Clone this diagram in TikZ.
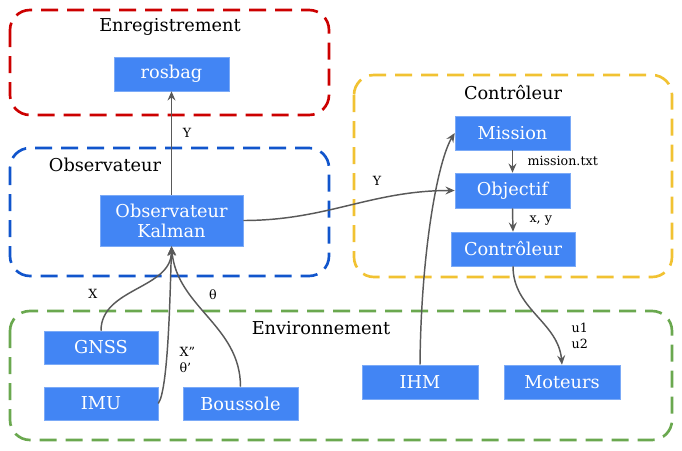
\documentclass[tikz,border=0pt]{standalone}
\usepackage{fontspec}
\setmainfont{DejaVu Serif}
\usetikzlibrary{arrows.meta}

\definecolor{bloccolor}{HTML}{4285F4}
\definecolor{flechecolor}{HTML}{595959}
\definecolor{rouge}{HTML}{CC0000}
\definecolor{bleu}{HTML}{1155CC}
\definecolor{jaune}{HTML}{F1C232}
\definecolor{vert}{HTML}{6AA84F}

\tikzset{
  bloc/.style={fill=bloccolor, draw=bloccolor!70!white, text=white, inner sep=0pt,
    align=center, font=\fontsize{13.3}{15}\selectfont},
  groupe/.style={line width=2pt, dash pattern=on 12.75pt off 6.75pt, rounded corners=15pt},
  titre/.style={font=\fontsize{13.3}{15}\selectfont},
  fleche/.style={draw=flechecolor, line width=1.1pt, -{Stealth[length=7pt,width=6pt,inset=2.5pt]}},
  etiquette/.style={font=\fontsize{9.5}{12}\selectfont, align=left, inner sep=1pt}
}

\begin{document}
\begin{tikzpicture}[x=0.75pt, y=-0.75pt]
	\useasboundingbox (0,0) rectangle (682,450);

        % groupes
	\draw [groupe, draw=rouge] (10,10) rectangle (329,115);
	\draw [groupe, draw=bleu] (10,148) rectangle (329,276);
	\draw [groupe, draw=jaune] (354,75) rectangle (672,277);
	\draw [groupe, draw=vert] (10,311) rectangle (672,440);
	\node [titre] (t-enreg) at (170,27) {Enregistrement};
	\node [titre] (t-obs) at (105,165) {Observateur};
	\node [titre] (t-ctrl) at (513,93) {Contrôleur};
	\node [titre] (t-env) at (321,328) {Environnement};

        % blocs
	\node [bloc, minimum width=86.25pt, minimum height=25.5pt] (rosbag) at (171.5,74) {rosbag};
	\node [bloc, minimum width=107.25pt, minimum height=38.25pt] (kalman) at (171.5,220.5) {Observateur\\Kalman};
	\node [bloc, minimum width=86.25pt, minimum height=25.5pt] (mission) at (512.5,133) {Mission};
	\node [bloc, minimum width=86.25pt, minimum height=26.25pt] (objectif) at (512.5,190.5) {Objectif};
	\node [bloc, minimum width=93pt, minimum height=25.5pt] (controleur) at (513,249) {Contrôleur};
	\node [bloc, minimum width=85.5pt, minimum height=24.75pt] (gnss) at (101,347.5) {GNSS};
	\node [bloc, minimum width=85.5pt, minimum height=24.75pt] (imu) at (101,403.5) {IMU};
	\node [bloc, minimum width=86.25pt, minimum height=24.75pt] (boussole) at (240.5,403.5) {Boussole};
	\node [bloc, minimum width=87pt, minimum height=25.5pt] (ihm) at (420,382) {IHM};
	\node [bloc, minimum width=87pt, minimum height=25.5pt] (moteurs) at (562,382) {Moteurs};

        % connexions
	\draw [fleche] (kalman.north) -- (rosbag.south) node [etiquette, pos=0.6, right=7pt] (l-y1) {Y};
	\draw [fleche] (kalman.east) to [out=0, in=180] (objectif.west);
	\node [etiquette] (l-y2) at (377,181) {Y};
	\draw [fleche] (gnss.north) to [out=90, in=-90] (kalman.south);
	\draw [fleche] (imu.east) .. controls (168,390) and (170,300) .. (kalman.south);
	\draw [fleche] (boussole.north) to [out=90, in=-85] (kalman.south);
	\draw [fleche] (ihm.north) .. controls (421,250) and (438,160) .. (mission.west);
	\draw [fleche] (mission.south) -- (objectif.north);
	\draw [fleche] (objectif.south) -- (controleur.north);
	\draw [fleche] (controleur.south) to [out=-90, in=95] (moteurs.north);

        % etiquettes
	\node [etiquette, anchor=west] (l-mission) at (526,161) {mission.txt};
	\node [etiquette, anchor=west] (l-xy) at (528,221) {x, y};
	\node [etiquette] (l-x) at (93,294) {X};
	\node [etiquette] (l-theta) at (213,295) {θ};
	\node [etiquette, anchor=west] (l-imu) at (178,360) {X”\\θ’};
	\node [etiquette, anchor=west] (l-u) at (570,336) {u1\\u2};
\end{tikzpicture}
\end{document}
